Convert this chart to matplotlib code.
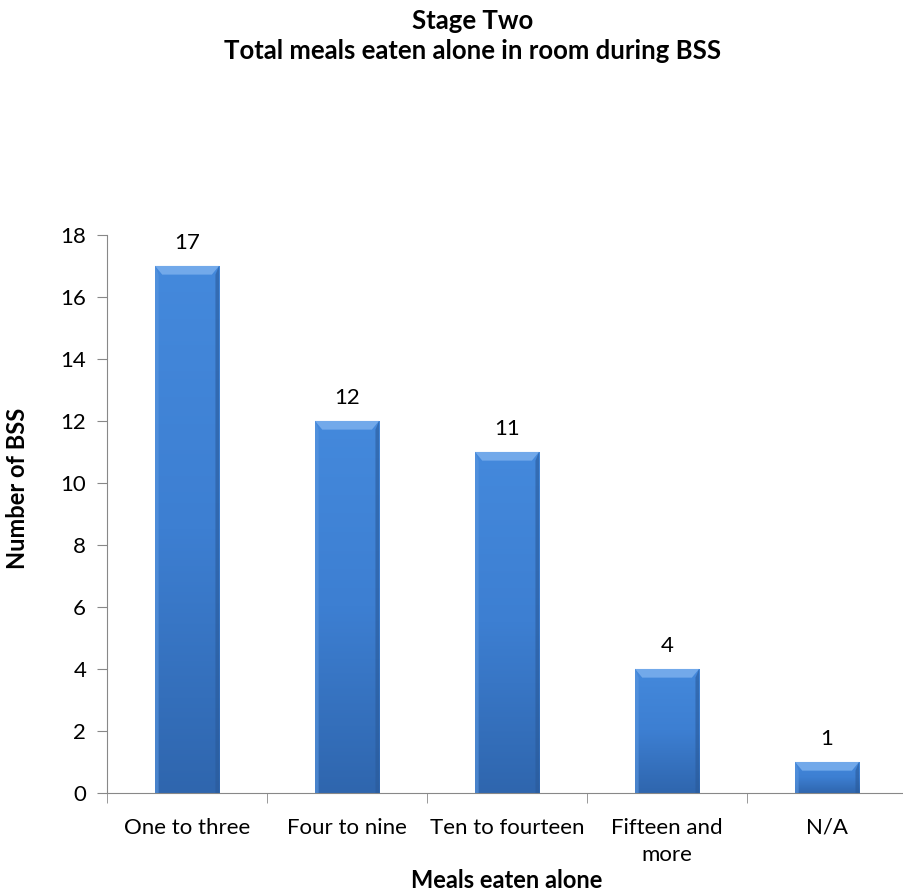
import matplotlib
matplotlib.use("Agg")
import numpy as np
import matplotlib.pyplot as plt
from matplotlib.patches import Polygon
from matplotlib.colors import LinearSegmentedColormap

categories = ["One to three", "Four to nine", "Ten to fourteen", "Fifteen and\nmore", "N/A"]
counts = [17, 12, 11, 4, 1]
yticks = [0, 2, 4, 6, 8, 10, 12, 14, 16, 18]

plt.rcParams["font.family"] = ["Lato", "DejaVu Sans"]

fig = plt.figure(figsize=(9.04, 8.96), dpi=100)
ax = fig.add_axes([0.1184, 0.115, 0.885, 0.6228])

x = list(range(len(categories)))
bars = ax.bar(x, counts, width=0.4, color="#3a78c6", edgecolor="#2c5d9e", linewidth=0.6, zorder=2)

# vertical shading inside each bar, lighter near the top
shade = LinearSegmentedColormap.from_list("shade", ["#2f66ae", "#3d7fd2", "#4489dc"])
grad = np.linspace(0, 1, 256).reshape(-1, 1)
for b in bars:
    x0, w, h = b.get_x(), b.get_width(), b.get_height()
    im = ax.imshow(grad, cmap=shade, origin="lower", aspect="auto",
                   extent=(x0, x0 + w, 0, h), zorder=2.5)
    im.set_clip_path(b)
    # bevelled top edge
    dx, dy = 0.045, 0.28
    ax.add_patch(Polygon([(x0, h), (x0 + w, h), (x0 + w - dx, h - dy), (x0 + dx, h - dy)],
                         closed=True, facecolor="#72a9ea", edgecolor="none", zorder=3))
    ax.add_patch(Polygon([(x0, h), (x0 + dx * 0.5, h - dy), (x0 + dx * 0.5, 0), (x0, 0)],
                         closed=True, facecolor="#5a96de", edgecolor="none", zorder=3, alpha=0.6))
    ax.add_patch(Polygon([(x0 + w, h), (x0 + w - dx * 0.5, h - dy), (x0 + w - dx * 0.5, 0), (x0 + w, 0)],
                         closed=True, facecolor="#2a5a99", edgecolor="none", zorder=3, alpha=0.6))

for xi, v in zip(x, counts):
    ax.text(xi, v + 0.75, str(v), ha="center", va="center", fontsize=16)

ax.set_xlim(-0.5, len(categories) - 0.5)
ax.set_ylim(0, 18)
ax.set_yticks(yticks)
ax.set_xticks(x)
ax.set_xticklabels(categories, fontsize=16, linespacing=1.45)
ax.set_xticks([i - 0.5 for i in range(len(categories) + 1)], minor=True)
ax.tick_params(axis="x", which="major", length=0, pad=18)
ax.tick_params(axis="x", which="minor", length=7, color="#888888")
ax.tick_params(axis="y", labelsize=16, length=7, color="#888888", pad=8)

for s in ["top", "right"]:
    ax.spines[s].set_visible(False)
for s in ["left", "bottom"]:
    ax.spines[s].set_color("#888888")

ax.set_ylabel("Number of BSS", fontsize=17, fontweight="bold")
ax.yaxis.set_label_coords(-0.097, 0.545)
ax.set_xlabel("Meals eaten alone", fontsize=17, fontweight="bold", labelpad=3)

fig.text(0.523, 0.977, "Stage Two", ha="center", va="center", fontsize=18.5, fontweight="bold")
fig.text(0.523, 0.943, "Total meals eaten alone in room during BSS",
         ha="center", va="center", fontsize=18.5, fontweight="bold")

fig.savefig("out.png", dpi=100)
